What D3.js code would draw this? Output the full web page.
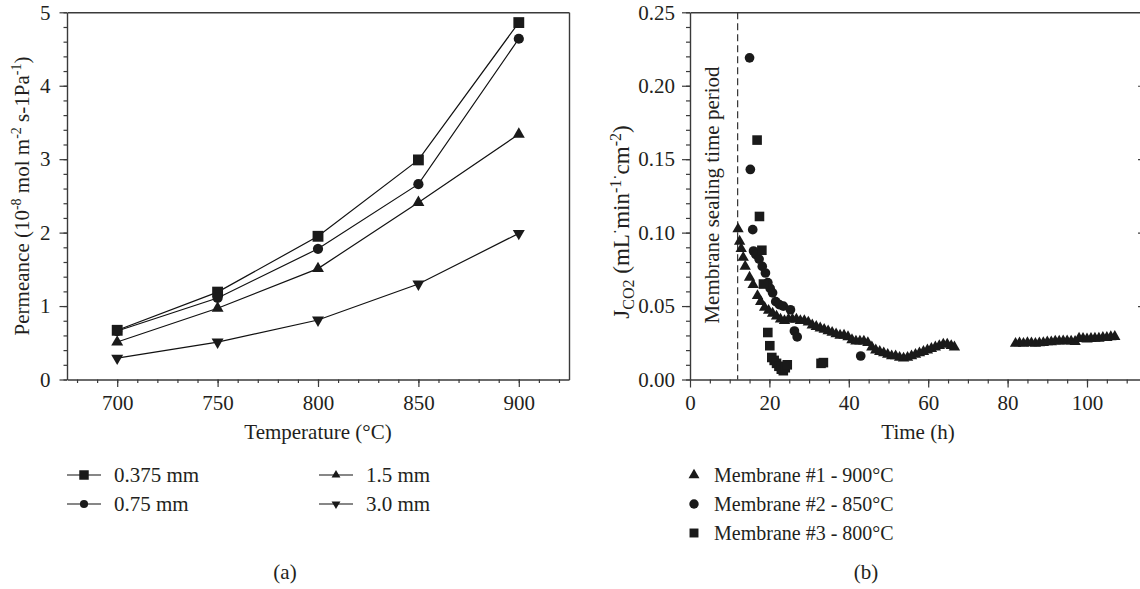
<!DOCTYPE html>
<html>
<head>
<meta charset="utf-8">
<script src="https://cdn.jsdelivr.net/npm/d3@7"></script>
<style>
  html, body { margin: 0; padding: 0; background: #fff; }
  svg { display: block; }
  text { font-family: "Liberation Serif", "DejaVu Serif", serif; fill: #231f20; }
</style>
</head>
<body>
<svg id="chart" width="1140" height="589"></svg>
<script>
// ---------- panel (a): permeance vs temperature ----------
const temperatures = [700, 750, 800, 850, 900];
const thicknessLabels = ["0.375 mm", "0.75 mm", "1.5 mm", "3.0 mm"];
const perm0375 = [0.67, 1.19, 1.95, 2.99, 4.86];
const perm075  = [0.66, 1.11, 1.78, 2.66, 4.64];
const perm15   = [0.51, 0.97, 1.51, 2.41, 3.34];
const perm30   = [0.29, 0.51, 0.81, 1.30, 1.99];
const tempTicks = [700, 750, 800, 850, 900];
const permTicks = [0, 1, 2, 3, 4, 5];

// ---------- panel (b): CO2 flux vs time ----------
const membraneLabels = ["Membrane #1 - 900°C", "Membrane #2 - 850°C", "Membrane #3 - 800°C"];
const m1Time = [12.1, 12.5, 12.9, 13.4, 13.9, 15.0, 15.9, 17.0, 17.8, 18.8, 19.8, 20.8, 21.8, 22.8, 23.8,
  24.8, 25.8, 26.8, 27.8, 28.8, 29.8, 30.8, 31.8, 32.8, 33.8, 34.8, 35.8, 36.8, 37.8, 38.8, 39.8,
  40.8, 41.8, 42.8, 43.8, 44.8, 45.8, 46.8, 47.8, 48.8, 49.8, 50.8, 51.8, 52.8, 53.8, 54.8, 55.8,
  56.8, 57.8, 58.8, 59.8, 60.8, 61.8, 62.8, 63.8, 64.8, 65.8, 66.6,
  82, 83, 84, 85, 86, 87, 88, 89, 90, 91, 92, 93, 94, 95, 96, 97, 98, 99, 100, 101, 102, 103, 104, 105, 106, 107];
const m1Flux = [0.1025, 0.094, 0.089, 0.083, 0.077, 0.0695, 0.0645, 0.057, 0.053, 0.049, 0.047, 0.045, 0.043, 0.041, 0.040,
  0.041, 0.041, 0.041, 0.040, 0.040, 0.039, 0.037, 0.036, 0.035, 0.034, 0.033, 0.032, 0.031, 0.030, 0.030, 0.029,
  0.027, 0.026, 0.026, 0.026, 0.025, 0.022, 0.020, 0.019, 0.018, 0.017, 0.016, 0.016, 0.015, 0.0145, 0.015, 0.016,
  0.017, 0.018, 0.019, 0.020, 0.021, 0.022, 0.023, 0.024, 0.024, 0.023, 0.022,
  0.0245, 0.0248, 0.0245, 0.025, 0.0248, 0.0245, 0.0248, 0.025, 0.0255, 0.0255, 0.026, 0.026, 0.0262, 0.0262, 0.026, 0.0258,
  0.028, 0.0278, 0.0275, 0.0278, 0.028, 0.028, 0.0285, 0.0285, 0.029, 0.0292];
const m2Time = [15.0, 15.2, 15.8, 16.0, 16.6, 17.4, 18.2, 19.0, 19.6, 20.2, 20.8, 21.6, 22.5, 23.5, 25.3, 26.3, 27.0, 43.0];
const m2Flux = [0.219, 0.143, 0.102, 0.0875, 0.085, 0.082, 0.077, 0.0725, 0.066, 0.062, 0.059, 0.053, 0.051, 0.050, 0.0475, 0.033, 0.029, 0.016];
const m3Time = [16.9, 17.5, 18.1, 18.5, 19.6, 20.1, 20.6, 21.2, 21.8, 22.4, 23.0, 23.5, 24.0, 24.5, 33.0, 33.6];
const m3Flux = [0.163, 0.111, 0.088, 0.065, 0.032, 0.023, 0.015, 0.013, 0.011, 0.009, 0.007, 0.006, 0.008, 0.010, 0.011, 0.0115];
const sealingTime = 12;
const timeTicks = [0, 20, 40, 60, 80, 100];
const fluxTicks = [0, 0.05, 0.10, 0.15, 0.20, 0.25];

const svg = d3.select("#chart");
const ink = "#231f20";
const frameColor = "#3a3a3a";
const fs = 21;

function styleAxis(g) {
  g.attr("font-family", null);
  g.selectAll("path").attr("stroke", frameColor).attr("stroke-width", 1.4);
  g.selectAll("line").attr("stroke", frameColor).attr("stroke-width", 1.2);
  g.selectAll("text").attr("font-size", fs).attr("fill", ink);
}

// ===================== panel (a) =====================
const xA = d3.scaleLinear().domain([675, 925]).range([67, 569]);
const yA = d3.scaleLinear().domain([0, 5]).range([379.5, 12.3]);
const gA = svg.append("g");

// minor ticks
gA.append("g").attr("transform", `translate(0,${yA(0)})`)
  .call(d3.axisBottom(xA).tickValues(d3.range(680, 921, 10)).tickSize(3.5).tickFormat(""))
  .call(styleAxis).call(g => g.select("path").remove());
gA.append("g").attr("transform", `translate(${xA.range()[0]},0)`)
  .call(d3.axisLeft(yA).tickValues(d3.range(0, 5.01, 0.2)).tickSize(3.5).tickFormat(""))
  .call(styleAxis).call(g => g.select("path").remove());
// major axes
gA.append("g").attr("transform", `translate(0,${yA(0)})`)
  .call(d3.axisBottom(xA).tickValues(tempTicks).tickSize(7.5).tickSizeOuter(0).tickPadding(8)
    .tickFormat(d3.format("d")))
  .call(styleAxis);
gA.append("g").attr("transform", `translate(${xA.range()[0]},0)`)
  .call(d3.axisLeft(yA).tickValues(permTicks).tickSize(7.5).tickSizeOuter(0).tickPadding(9)
    .tickFormat(d3.format("d")))
  .call(styleAxis);
// top and right frame
gA.append("g").attr("transform", `translate(0,${yA(5)})`)
  .call(d3.axisTop(xA).tickValues([]).tickSizeOuter(0)).call(styleAxis);
gA.append("g").attr("transform", `translate(${xA.range()[1]},0)`)
  .call(d3.axisRight(yA).tickValues([]).tickSizeOuter(0)).call(styleAxis);

const seriesA = [
  { name: thicknessLabels[0], values: perm0375, shape: d3.symbolSquare, size: 118, legendSize: 90 },
  { name: thicknessLabels[1], values: perm075, shape: d3.symbolCircle, size: 82, legendSize: 52 },
  { name: thicknessLabels[2], values: perm15, shape: d3.symbolTriangle, size: 62, legendSize: 34 },
  { name: thicknessLabels[3], values: perm30, shape: d3.symbolTriangle, size: 62, legendSize: 34, flip: true }
];
const lineA = d3.line().x((d, i) => xA(temperatures[i])).y(d => yA(d));
seriesA.forEach(s => {
  gA.append("path").datum(s.values).attr("d", lineA)
    .attr("fill", "none").attr("stroke", "#111").attr("stroke-width", 1.2);
  gA.selectAll(null).data(s.values).join("path")
    .attr("d", d3.symbol(s.shape, s.size))
    .attr("transform", (d, i) => `translate(${xA(temperatures[i])},${yA(d)})${s.flip ? " rotate(180)" : ""}`)
    .attr("fill", "#1a1a1a");
});

// legend (a)
const legA = svg.append("g");
const legPos = [[67, 475], [67, 504], [319, 475], [319, 504]];
seriesA.forEach((s, i) => {
  const [lx, ly] = legPos[i];
  legA.append("line").attr("x1", lx).attr("x2", lx + 34).attr("y1", ly).attr("y2", ly)
    .attr("stroke", "#111").attr("stroke-width", 1.2);
  legA.append("path").attr("d", d3.symbol(s.shape, s.legendSize))
    .attr("transform", `translate(${lx + 17},${ly})${s.flip ? " rotate(180)" : ""}`)
    .attr("fill", "#1a1a1a");
  legA.append("text").attr("x", lx + 47).attr("y", ly + 7).attr("font-size", fs).text(s.name);
});

// axis titles (a)
svg.append("text").attr("x", (xA.range()[0] + xA.range()[1]) / 2).attr("y", 439)
  .attr("text-anchor", "middle").attr("font-size", fs).text("Temperature (°C)");
const yTitleA = svg.append("text").attr("transform", "translate(29,196) rotate(-90)")
  .attr("text-anchor", "middle").attr("font-size", fs);
yTitleA.append("tspan").text("Permeance (10");
yTitleA.append("tspan").attr("font-size", 14).attr("dy", -8).text("-8");
yTitleA.append("tspan").attr("dy", 8).text(" mol m");
yTitleA.append("tspan").attr("font-size", 14).attr("dy", -8).text("-2");
yTitleA.append("tspan").attr("dy", 8).text(" s-1Pa");
yTitleA.append("tspan").attr("font-size", 14).attr("dy", -8).text("-1");
yTitleA.append("tspan").attr("dy", 8).text(")");
svg.append("text").attr("x", 285).attr("y", 579).attr("text-anchor", "middle").attr("font-size", fs).text("(a)");

// ===================== panel (b) =====================
const xB = d3.scaleLinear().domain([0, 115]).range([690, 690 + 115 * 3.97]);
const yB = d3.scaleLinear().domain([0, 0.25]).range([379.5, 12.3]);
const gB = svg.append("g");

gB.append("g").attr("transform", `translate(0,${yB(0)})`)
  .call(d3.axisBottom(xB).tickValues(d3.range(5, 115, 5)).tickSize(4).tickFormat(""))
  .call(styleAxis).call(g => g.select("path").remove());
gB.append("g").attr("transform", `translate(${xB.range()[0]},0)`)
  .call(d3.axisLeft(yB).tickValues(d3.range(0, 0.2501, 0.01)).tickSize(4).tickFormat(""))
  .call(styleAxis).call(g => g.select("path").remove());
gB.append("g").attr("transform", `translate(0,${yB(0)})`)
  .call(d3.axisBottom(xB).tickValues(timeTicks).tickSize(8).tickSizeOuter(0).tickPadding(8)
    .tickFormat(d3.format("d")))
  .call(styleAxis);
gB.append("g").attr("transform", `translate(${xB.range()[0]},0)`)
  .call(d3.axisLeft(yB).tickValues(fluxTicks).tickSize(8).tickSizeOuter(0).tickPadding(7)
    .tickFormat(d3.format(".2f")))
  .call(styleAxis);
gB.append("g").attr("transform", `translate(0,${yB(0.25)})`)
  .call(d3.axisTop(xB).tickValues([]).tickSizeOuter(0)).call(styleAxis);
gB.append("g").attr("transform", `translate(${xB.range()[1]},0)`)
  .call(d3.axisRight(yB).tickValues([0.05, 0.10, 0.15, 0.20]).tickSize(-8.5).tickSizeOuter(0).tickFormat(""))
  .call(styleAxis);

// sealing period marker
gB.append("line").attr("x1", xB(sealingTime)).attr("x2", xB(sealingTime))
  .attr("y1", yB(0.25)).attr("y2", yB(0))
  .attr("stroke", "#333").attr("stroke-width", 1.2).attr("stroke-dasharray", "7,4");
svg.append("text").attr("transform", `translate(719,195) rotate(-90)`)
  .attr("text-anchor", "middle").attr("font-size", fs).text("Membrane sealing time period");

const seriesB = [
  { name: membraneLabels[0], t: m1Time, v: m1Flux, shape: d3.symbolTriangle, size: 56, legendSize: 52 },
  { name: membraneLabels[1], t: m2Time, v: m2Flux, shape: d3.symbolCircle, size: 74, legendSize: 70 },
  { name: membraneLabels[2], t: m3Time, v: m3Flux, shape: d3.symbolSquare, size: 92, legendSize: 80 }
];
seriesB.forEach(s => {
  gB.selectAll(null).data(s.v).join("path")
    .attr("d", d3.symbol(s.shape, s.size))
    .attr("transform", (d, i) => `translate(${xB(s.t[i])},${yB(d)})`)
    .attr("fill", "#1a1a1a");
});

// legend (b)
seriesB.forEach((s, i) => {
  const ly = 475 + i * 29;
  svg.append("path").attr("d", d3.symbol(s.shape, s.legendSize))
    .attr("transform", `translate(694,${ly})`).attr("fill", "#1a1a1a");
  svg.append("text").attr("x", 714).attr("y", ly + 7).attr("font-size", 20).text(s.name);
});

// axis titles (b)
svg.append("text").attr("x", 918).attr("y", 439).attr("text-anchor", "middle").attr("font-size", fs).text("Time (h)");
const yTitleB = svg.append("text").attr("transform", "translate(629,222) rotate(-90)")
  .attr("text-anchor", "middle").attr("font-size", 23);
yTitleB.append("tspan").text("J");
yTitleB.append("tspan").attr("font-size", 16).attr("dy", 5).text("CO2");
yTitleB.append("tspan").attr("dy", -5).text(" (mL");
yTitleB.append("tspan").attr("font-size", 16).attr("dy", -8).text("·");
yTitleB.append("tspan").attr("dy", 8).text("min");
yTitleB.append("tspan").attr("font-size", 16).attr("dy", -8).text("-1");
yTitleB.append("tspan").attr("font-size", 16).text("·");
yTitleB.append("tspan").attr("dy", 8).text("cm");
yTitleB.append("tspan").attr("font-size", 16).attr("dy", -8).text("-2");
yTitleB.append("tspan").attr("dy", 8).text(")");
svg.append("text").attr("x", 866).attr("y", 579).attr("text-anchor", "middle").attr("font-size", fs).text("(b)");
</script>
</body>
</html>
